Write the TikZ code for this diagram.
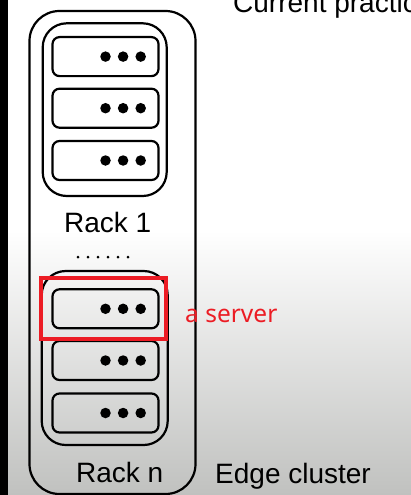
\documentclass[tikz,border=0pt]{standalone}
\usepackage{fontspec}
\setmainfont{Liberation Sans}
\newfontfamily\redfont{Noto Sans}
\definecolor{slidered}{RGB}{236,28,36}
\definecolor{bggrey}{RGB}{192,193,191}
\begin{document}
\begin{tikzpicture}[x=1pt,y=-1pt,
  frame/.style={draw=black,line width=2.2pt,rounded corners=#1},
  server/.style={draw=black,line width=2.2pt,rounded corners=7pt,minimum width=106pt,minimum height=39pt,inner sep=0pt},
  dot/.style={fill=black,circle,minimum size=10.5pt,inner sep=0pt},
  lbl/.style={font=\fontsize{28}{30}\selectfont,anchor=base west,inner sep=0pt},
  redlbl/.style={font=\redfont\fontsize{24.5}{28}\selectfont,text=slidered,anchor=base west,inner sep=0pt}
]
\useasboundingbox (0,0) rectangle (411,495);
\clip (0,0) rectangle (411,495);
% background
\fill[white] (0,0) rectangle (411,495);
\shade[top color=white,bottom color=bggrey] (0,230) rectangle (411,495);
\fill[black] (0,0) rectangle (8,495);
% title (cut off by the frame, as in the reference)
\node[lbl] (title) at (233,13) {Current practice};
% outer edge cluster
\draw[frame=30pt] (29.5,11) rectangle (195.5,494);
% rack 1
\draw[frame=24pt] (42.7,23.3) rectangle (166.7,196);
% rack n
\draw[frame=24pt] (41.7,271) rectangle (167.7,445);
% servers
\foreach \n/\y in {a/56.6,b/108.2,c/160.5,d/308.8,e/360.5,f/413}{
  \node[server] (s\n) at (105.5,\y) {};
  \node[dot] (s\n1) at ([xshift=0pt]s\n.center) {};
  \node[dot] (s\n2) at ([xshift=17.6pt]s\n.center) {};
  \node[dot] (s\n3) at ([xshift=35.2pt]s\n.center) {};
}
% labels
\node[lbl] (rack1) at (64,232) {Rack 1};
\foreach \i in {0,...,5}{
  \node[fill=black,circle,minimum size=3pt,inner sep=0pt] (e\i) at (78+10*\i,257) {};
}
\node[lbl] (rackn) at (76,482) {Rack n};
\node[lbl] (edge) at (215,483) {Edge cluster};
% highlight
\node[draw=slidered,line width=4.5pt,minimum width=125pt,minimum height=61pt,inner sep=0pt] (hl) at (103.5,308.5) {};
\node[redlbl] (aserver) at (185,322) {a server};
\end{tikzpicture}
\end{document}
